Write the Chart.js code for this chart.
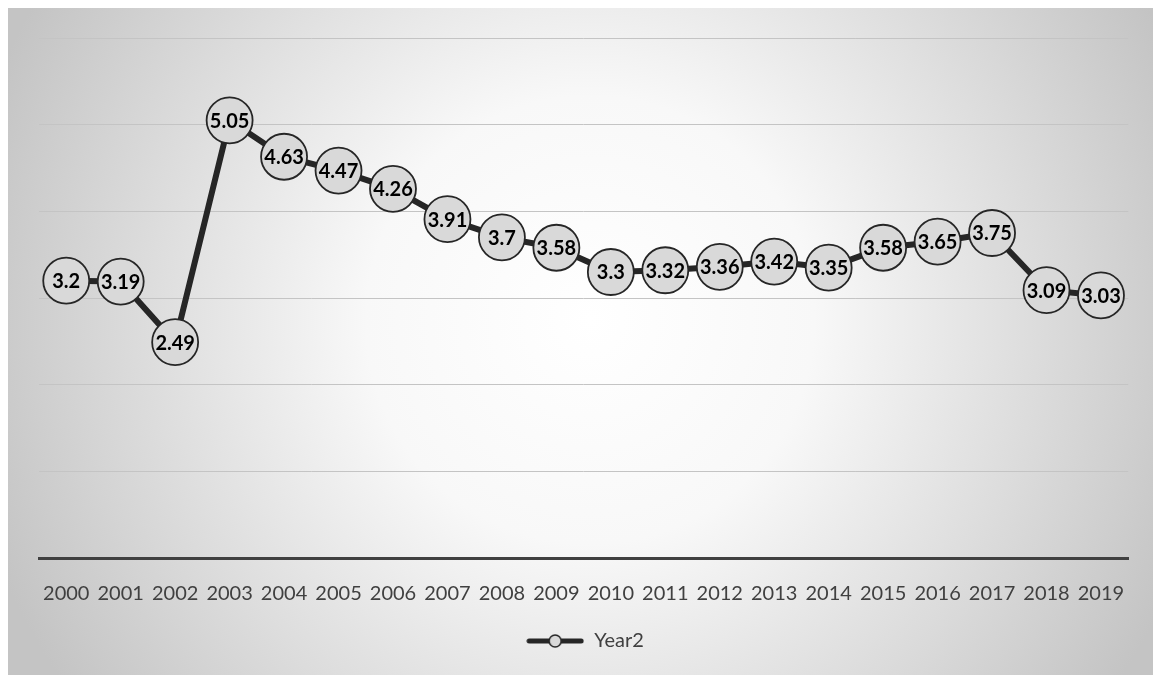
<!DOCTYPE html>
<html>
<head>
<meta charset="utf-8">
<script src="https://cdn.jsdelivr.net/npm/chart.js@4/dist/chart.umd.min.js"></script>
<style>
    html, body { margin: 0; padding: 0; background: #fff; }
    #wrap { width: 1153px; height: 675px; position: relative; }
</style>
</head>
<body>
<div id="wrap"><canvas id="lineChart"></canvas></div>
<script>
// chart data
const years = ['2000', '2001', '2002', '2003', '2004', '2005', '2006', '2007', '2008', '2009',
    '2010', '2011', '2012', '2013', '2014', '2015', '2016', '2017', '2018', '2019'];
const year2Values = [3.2, 3.19, 2.49, 5.05, 4.63, 4.47, 4.26, 3.91, 3.7, 3.58,
    3.3, 3.32, 3.36, 3.42, 3.35, 3.58, 3.65, 3.75, 3.09, 3.03];
const seriesName = 'Year2';

const lineColor = '#262626';
const markerFill = '#d9d9d9';

// legend marker: a short line with a circle on it
function legendMarker() {
    const c = document.createElement('canvas');
    c.width = 58;
    c.height = 16;
    const g = c.getContext('2d');
    g.strokeStyle = lineColor;
    g.lineWidth = 5;
    g.lineCap = 'round';
    g.beginPath();
    g.moveTo(3, 8);
    g.lineTo(55, 8);
    g.stroke();
    g.beginPath();
    g.arc(29, 8, 6, 0, Math.PI * 2);
    g.fillStyle = markerFill;
    g.fill();
    g.lineWidth = 1.5;
    g.stroke();
    return c;
}

// radial background like the office chart fill
const backgroundPlugin = {
    id: 'radialBackground',
    beforeDraw(chart) {
        const { ctx, width, height } = chart;
        ctx.save();
        const grad = ctx.createRadialGradient(590, 320, 0, 590, 320, 640);
        grad.addColorStop(0, '#ffffff');
        grad.addColorStop(0.35, '#f8f8f8');
        grad.addColorStop(1, '#c4c4c4');
        ctx.fillStyle = grad;
        ctx.fillRect(8, 8, width - 8, height - 8);
        ctx.restore();
    }
};

// value labels drawn inside each marker
const pointLabels = {
    id: 'pointLabels',
    afterDatasetsDraw(chart) {
        const { ctx } = chart;
        const meta = chart.getDatasetMeta(0);
        ctx.save();
        ctx.font = 'bold 20px Lato';
        ctx.fillStyle = '#000';
        ctx.textAlign = 'center';
        ctx.textBaseline = 'middle';
        meta.data.forEach((pt, i) => {
            ctx.fillText(String(year2Values[i]), pt.x, pt.y + 1);
        });
        ctx.restore();
    }
};

document.addEventListener('DOMContentLoaded', function () {
    const ctx = document.getElementById('lineChart');

    new Chart(ctx, {
        type: 'line',
        data: {
            labels: years,
            datasets: [{
                label: seriesName,
                data: year2Values,
                borderColor: lineColor,
                borderWidth: 6,
                pointRadius: 23,
                pointHoverRadius: 23,
                pointBackgroundColor: markerFill,
                pointBorderColor: lineColor,
                pointBorderWidth: 1.8,
                tension: 0,
                fill: false,
            }]
        },
        options: {
            responsive: true,
            maintainAspectRatio: false,
            animation: false,
            layout: {
                padding: { left: 39, right: 22, top: 38, bottom: 14 }
            },
            plugins: {
                legend: {
                    position: 'bottom',
                    labels: {
                        usePointStyle: true,
                        pointStyle: legendMarker(),
                        pointStyleWidth: 58,
                        color: '#404040',
                        font: { family: 'Lato', size: 20 },
                        padding: 9,
                    }
                },
                tooltip: { enabled: false },
            },
            scales: {
                x: {
                    offset: true,
                    grid: { display: false },
                    border: { display: true, color: '#404040', width: 3 },
                    ticks: {
                        color: '#404040',
                        font: { family: 'Lato', size: 20 },
                        padding: 16,
                        maxRotation: 0,
                        autoSkip: false,
                    }
                },
                y: {
                    min: 0,
                    max: 6,
                    ticks: { display: false, stepSize: 1 },
                    border: { display: false },
                    grid: {
                        drawTicks: false,
                        color: c => c.tick.value === 0 ? 'rgba(0,0,0,0)' : '#c4c4c4',
                        lineWidth: 1,
                    }
                }
            }
        },
        plugins: [backgroundPlugin, pointLabels]
    });
});
</script>
</body>
</html>
